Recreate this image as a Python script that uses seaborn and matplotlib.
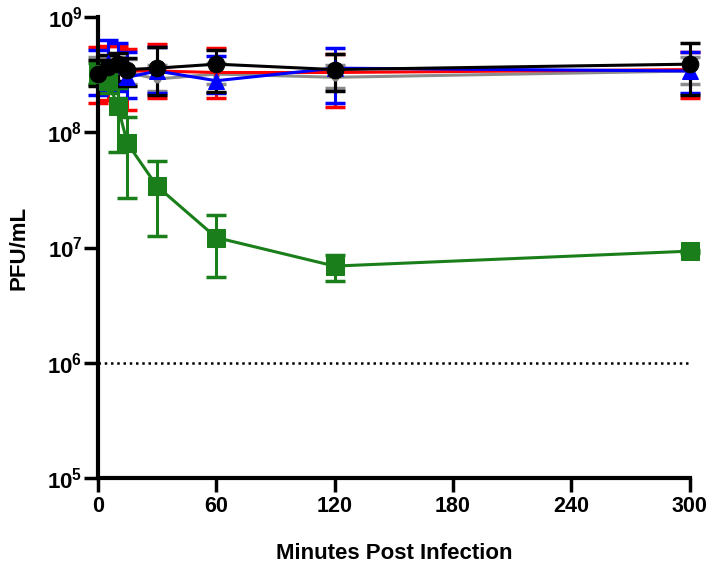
import numpy as np
import pandas as pd
import matplotlib
matplotlib.use('Agg')
import matplotlib.pyplot as plt
import seaborn as sns
from matplotlib.ticker import FixedLocator, FuncFormatter, NullLocator

sns.set_style('ticks')
plt.rcParams['font.family'] = ['Liberation Sans', 'DejaVu Sans']
plt.rcParams['font.weight'] = 'bold'
plt.rcParams['mathtext.fontset'] = 'custom'
plt.rcParams['mathtext.rm'] = 'Liberation Sans:bold'
plt.rcParams['mathtext.bf'] = 'Liberation Sans:bold'
for k in ['text.color', 'axes.labelcolor', 'axes.edgecolor', 'xtick.color', 'ytick.color']:
    plt.rcParams[k] = 'black'

# time points (minutes post infection)
times = [0, 5, 10, 15, 30, 60, 120, 300]

# PFU/mL means and error bar ends
gray_vals = [3.4e8, 3.5e8, 3.5e8, 3.3e8, 2.9e8, 3.2e8, 3.0e8, 3.4e8]
gray_lo = [2.6e8, 2.7e8, 2.7e8, 2.6e8, 2.3e8, 2.6e8, 2.4e8, 2.6e8]
gray_hi = [4.5e8, 4.6e8, 4.5e8, 4.3e8, 3.8e8, 4.0e8, 3.8e8, 4.5e8]

red_vals = [3.3e8, 3.5e8, 3.6e8, 3.4e8, 3.4e8, 3.3e8, 3.3e8, 3.5e8]
red_lo = [1.8e8, 1.9e8, 1.9e8, 1.55e8, 2.0e8, 2.0e8, 1.65e8, 2.0e8]
red_hi = [5.5e8, 5.6e8, 5.6e8, 5.3e8, 5.8e8, 5.4e8, 4.8e8, 5.0e8]

blue_vals = [3.3e8, 4.0e8, 3.8e8, 3.0e8, 3.4e8, 2.8e8, 3.6e8, 3.4e8]
blue_lo = [2.1e8, 2.3e8, 2.3e8, 2.0e8, 2.2e8, 2.2e8, 1.8e8, 2.2e8]
blue_hi = [5.2e8, 6.3e8, 6.0e8, 5.0e8, 5.5e8, 4.6e8, 5.4e8, 5.0e8]

green_vals = [3.2e8, 2.8e8, 1.7e8, 8.0e7, 3.4e7, 1.22e7, 6.9e6, 9.3e6]
green_lo = [2.6e8, 2.2e8, 6.7e7, 2.7e7, 1.25e7, 5.5e6, 5.1e6, 9.0e6]
green_hi = [4.0e8, 3.5e8, 2.4e8, 1.36e8, 5.6e7, 1.9e7, 8.6e6, 9.6e6]

black_vals = [3.2e8, 3.7e8, 3.9e8, 3.5e8, 3.6e8, 3.9e8, 3.5e8, 3.9e8]
black_lo = [2.5e8, 2.7e8, 2.8e8, 2.5e8, 2.1e8, 2.25e8, 2.3e8, 2.1e8]
black_hi = [4.2e8, 4.7e8, 4.9e8, 4.4e8, 5.5e8, 5.2e8, 4.8e8, 5.9e8]

limit_of_detection = 1e6

series = [
    ('gray', '#8c8c8c', 'o', 5, gray_vals, gray_lo, gray_hi),
    ('red', '#ff0000', 'v', 7, red_vals, red_lo, red_hi),
    ('blue', '#0000ff', '^', 11, blue_vals, blue_lo, blue_hi),
    ('green', '#1a7f1a', 's', 13, green_vals, green_lo, green_hi),
    ('black', '#000000', 'o', 12, black_vals, black_lo, black_hi),
]

fig = plt.figure(figsize=(7.09, 5.75), dpi=100)
ax = fig.add_axes([0.138, 0.1687, 0.835, 0.8017])

ax.plot([0, 300], [limit_of_detection] * 2, ls=(0, (1, 1.5)), color='black', lw=1.8)

for name, col, mk, ms, vals, lo, hi in series:
    vals = np.array(vals)
    yerr = [vals - np.array(lo), np.array(hi) - vals]
    ax.errorbar(times, vals, yerr=yerr, fmt='none', ecolor=col, elinewidth=2.2,
                capsize=7.5, capthick=2.5, clip_on=False, zorder=2)
    sns.lineplot(x=times, y=vals, color=col, marker=mk, markersize=ms,
                 markeredgecolor=col, lw=2.2, ax=ax, clip_on=False, zorder=3)

ax.set_yscale('log')
ax.set_ylim(1e5, 1e9)
ax.set_xlim(0, 300)
ax.yaxis.set_major_locator(FixedLocator([1e5, 1e6, 1e7, 1e8, 1e9]))
ax.yaxis.set_minor_locator(NullLocator())
ax.yaxis.set_major_formatter(FuncFormatter(lambda v, p: r'$\mathbf{10^{%d}}$' % round(np.log10(v))))
ax.set_xticks([0, 60, 120, 180, 240, 300])

for s in ['top', 'right']:
    ax.spines[s].set_visible(False)
for s in ['left', 'bottom']:
    ax.spines[s].set_linewidth(3)
    ax.spines[s].set_color('black')
ax.tick_params(axis='both', width=2.5, length=10, labelsize=16, pad=3, colors='black')
ax.tick_params(axis='y', pad=1)
ax.tick_params(axis='x', labelsize=15.5)
for lab in ax.get_xticklabels():
    lab.set_fontweight('bold')

ax.set_xlabel('Minutes Post Infection', fontsize=16, fontweight='bold', labelpad=19, color='black')
ax.set_ylabel('PFU/mL', fontsize=16, fontweight='bold', labelpad=13, color='black')

fig.savefig('out.png', dpi=100)
